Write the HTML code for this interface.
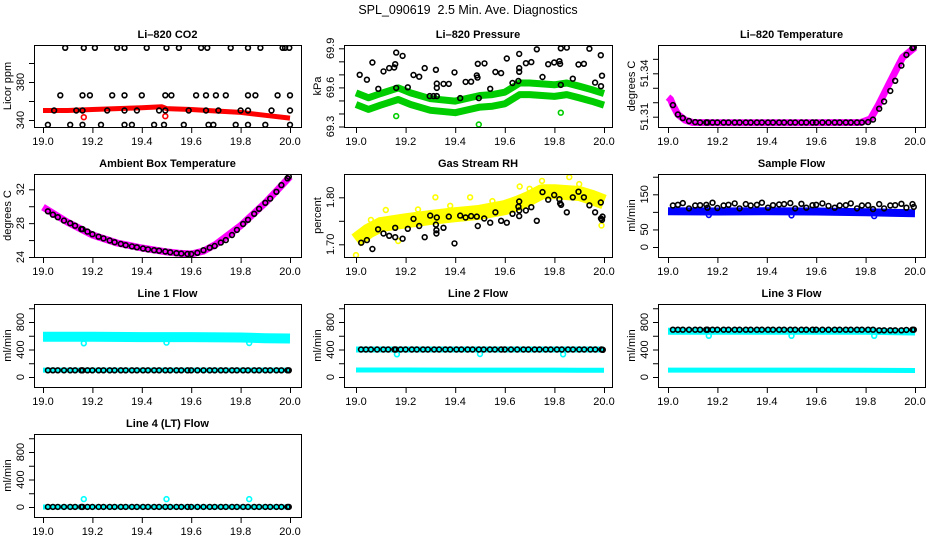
<!DOCTYPE html>
<html><head><meta charset="utf-8"><title>SPL_090619 Diagnostics</title>
<style>
html,body{margin:0;padding:0;background:#fff;}
svg{display:block;font-family:"Liberation Sans",Arial,sans-serif;}
</style></head>
<body>
<svg id="chart" width="936" height="540" viewBox="0 0 936 540" xmlns="http://www.w3.org/2000/svg">
<text x="468" y="14" text-anchor="middle" font-size="12.5">SPL_090619&#160; 2.5 Min. Ave. Diagnostics</text>
</svg>
<script>
// ---------- shared sample times ----------
const tB = [19.02,19.04,19.06,19.085,19.11,19.13,19.155,19.16,19.18,19.2,19.225,19.245,19.27,19.29,19.315,19.335,19.36,19.38,19.405,19.425,19.45,19.47,19.495,19.515,19.54,19.56,19.585,19.6,19.625,19.65,19.675,19.695,19.72,19.74,19.765,19.785,19.81,19.83,19.855,19.875,19.9,19.92,19.945,19.965,19.99,19.995];
const xTicks = [19.0,19.2,19.4,19.6,19.8,20.0];
const xTickLabels = ["19.0","19.2","19.4","19.6","19.8","20.0"];
const outX = [19.165,19.5,19.835];

// ---------- Li-820 CO2 ----------
const co2BandX = [19.0,19.1,19.2,19.3,19.4,19.48,19.5,19.6,19.7,19.8,19.9,20.0];
const co2BandY = [350,350,351,352,353,354,352,351,349.5,348,345,342];
const co2OutX = [19.165,19.495];
const co2OutY = [343,344];
const co2BlackX = [19.09,19.165,19.21,19.30,19.33,19.42,19.50,19.55,19.64,19.665,19.76,19.83,19.88,19.97,19.98,19.997,
 19.07,19.16,19.19,19.28,19.33,19.40,19.495,19.52,19.62,19.66,19.70,19.74,19.83,19.86,19.95,20.0,
 19.045,19.135,19.16,19.26,19.33,19.38,19.47,19.495,19.59,19.66,19.71,19.80,19.83,19.925,20.0,
 19.02,19.11,19.16,19.235,19.33,19.36,19.45,19.49,19.57,19.67,19.69,19.78,19.83,19.90,20.0];
const co2BlackY = [416,416,416,416,416,416,416,416,416,416,416,416,416,416,416,416,
 366,366,366,366,366,366,366,366,366,366,366,366,366,366,366,366,
 350,350,350,350,350,350,350,350,350,350,350,350,350,350,350,
 335,335,335,335,335,335,335,335,335,335,335,335,335,335,335];
const co2YTicks = [340,360,380,400];
const co2YLabels = [340,380];

// ---------- Li-820 Pressure ----------
const presBandX = [19.0,19.05,19.1,19.17,19.22,19.3,19.4,19.5,19.55,19.6,19.66,19.7,19.8,19.85,19.9,19.95,20.0];
const presUpperY = [69.558,69.52,69.553,69.596,69.558,69.513,69.495,69.538,69.545,69.563,69.634,69.634,69.62,69.634,69.609,69.583,69.553];
const presLowerY = [69.469,69.431,69.464,69.507,69.469,69.424,69.406,69.449,69.456,69.474,69.545,69.545,69.531,69.545,69.52,69.494,69.464];
const presOutY = [69.38,69.315,69.406];
const presOutX = [19.162,19.495,19.826];
const presBlackX = [19.015,19.044,19.066,19.09,19.111,19.134,19.154,19.158,19.162,19.162,19.188,19.209,19.232,19.255,19.277,19.297,19.313,19.322,19.326,19.326,19.326,19.353,19.374,19.397,19.42,19.442,19.464,19.487,19.49,19.491,19.495,19.518,19.541,19.562,19.585,19.608,19.631,19.655,19.658,19.658,19.658,19.685,19.707,19.729,19.752,19.775,19.799,19.82,19.823,19.826,19.826,19.85,19.874,19.897,19.919,19.941,19.964,19.987,19.988,19.992];
const presBlackY = [69.697,69.659,69.791,69.589,69.723,69.748,69.753,69.778,69.867,69.596,69.842,69.601,69.695,69.682,69.748,69.533,69.533,69.735,69.629,69.596,69.533,69.627,69.627,69.715,69.518,69.642,69.644,69.692,69.675,69.781,69.518,69.784,69.589,69.718,69.71,69.822,69.634,69.649,69.72,69.748,69.857,69.786,69.794,69.892,69.68,69.778,69.791,69.801,69.78,69.9,69.619,69.905,69.667,69.776,69.781,69.897,69.637,69.847,69.609,69.69];
const presYTicks = [69.3,69.4,69.5,69.6,69.7,69.8,69.9];
const presYLabels = [69.3,69.6,69.9];

// ---------- Li-820 Temperature ----------
const ltBandX = [19.0,19.01,19.02,19.04,19.07,19.1,19.2,19.4,19.6,19.78,19.82,19.85,19.9,19.95,20.0];
const ltBandY = [51.3235,51.322,51.318,51.3115,51.3076,51.306,51.3058,51.3058,51.3058,51.306,51.3085,51.3175,51.3345,51.351,51.358];
const ltBlackY = [51.318,51.3115,51.309,51.307,51.3063,
 51.306,51.306,51.306,51.306,51.306,51.306,51.306,51.306,51.306,51.306,51.306,51.306,51.306,51.306,51.306,51.306,
 51.306,51.306,51.306,51.306,51.306,51.306,51.306,51.306,51.306,51.306,51.306,51.306,51.306,51.306,51.306,
 51.3063,51.308,51.3155,51.3205,51.3278,51.3348,51.3453,51.3527,51.3575,51.358];
const ltYTicks = [51.31,51.32,51.33,51.34,51.35];
const ltYLabels = [51.31,51.34];

// ---------- Ambient Box Temperature ----------
const ambBandX = [19.0,19.1,19.2,19.3,19.4,19.5,19.55,19.6,19.65,19.7,19.8,19.9,20.0];
const ambBandY = [29.9,28.1,26.6,25.65,25.06,24.6,24.45,24.35,24.7,25.5,27.7,30.4,33.5];
const ambBlackY = [29.4,29.0,28.7,28.3,28.0,27.7,27.3,27.3,27.0,26.7,26.4,26.2,25.95,25.75,25.55,25.4,25.25,25.15,25.0,24.9,24.8,24.75,24.65,24.55,24.45,24.4,24.35,24.35,24.5,24.8,25.1,25.3,25.7,26.0,26.6,27.2,27.9,28.4,29.1,29.7,30.4,30.9,31.7,32.5,33.3,33.5];
const ambYTicks = [24,26,28,30,32];
const ambYLabels = [24,28,32];

// ---------- Gas Stream RH ----------
const rhBandX = [19.0,19.05,19.1,19.2,19.3,19.4,19.5,19.6,19.65,19.7,19.75,19.8,19.85,19.9,19.95,20.0];
const rhBandY = [1.708,1.728,1.742,1.750,1.757,1.763,1.768,1.778,1.787,1.798,1.812,1.812,1.81,1.808,1.80,1.79];
const rhYelX = [19.0,19.32,19.86,19.99,19.17,19.12,19.46,19.75,19.66,19.06,19.25,19.38,19.55,19.7,19.9];
const rhYelY = [1.677,1.80,1.843,1.74,1.707,1.773,1.800,1.835,1.823,1.752,1.774,1.782,1.792,1.818,1.828];
const rhBlackX = [19.021,19.044,19.066,19.089,19.111,19.134,19.158,19.158,19.188,19.209,19.232,19.255,19.277,19.299,19.322,19.324,19.324,19.326,19.353,19.374,19.397,19.42,19.442,19.464,19.487,19.491,19.517,19.541,19.562,19.585,19.608,19.631,19.655,19.658,19.658,19.658,19.685,19.707,19.729,19.752,19.775,19.799,19.82,19.823,19.827,19.85,19.874,19.897,19.919,19.941,19.964,19.987,19.988,19.992,19.994];
const rhBlackY = [1.7035,1.709,1.690,1.732,1.723,1.718,1.735,1.715,1.712,1.733,1.754,1.739,1.715,1.761,1.742,1.730,1.723,1.757,1.735,1.759,1.702,1.761,1.757,1.760,1.759,1.739,1.755,1.746,1.768,1.750,1.746,1.765,1.780,1.760,1.772,1.791,1.772,1.779,1.750,1.811,1.795,1.805,1.796,1.787,1.784,1.768,1.80,1.812,1.80,1.783,1.768,1.789,1.755,1.752,1.759];
const rhYTicks = [1.70,1.75,1.80];
const rhYLabels = ["1.70","1.80"];

// ---------- Sample Flow ----------
const sfBandX = [19.0,19.2,19.4,19.6,19.8,20.0];
const sfBandY = [102,101,102,101,99,96];
const sfOutY = [91,90,88];
const sfBlackY = [118,120,125,110,118,119,120,112,126,111,118,120,124,110,122,118,120,126,112,119,121,122,125,110,123,112,119,120,124,117,112,118,119,124,110,118,119,108,122,110,118,119,123,112,122,114];
const sfYTicks = [0,50,100,150,200];
const sfYLabels = [0,50,150];

// ---------- Line flows ----------
const lineYTicks = [0,200,400,600,800,1000];
const lineYLabels = [0,400,800];
const l1UpperX = [19.0,19.2,19.4,19.6,19.8,19.9,20.0];
const l1UpperY = [585,585,580,580,575,565,560];
const l1LowerY = [100,100,100,100,100,100,100];
const l1OutY = [490,500,495];
const l1BlackY = [98,98,98,98,98,98,98,98,98,98,98,98,98,98,98,98,98,98,98,98,98,98,98,98,98,98,98,98,98,98,98,98,98,98,98,98,98,98,98,98,98,98,98,98,98,98];
const l2UpperY = [400,400,400,400,400,400,400];
const l2LowerY = [102,102,101,101,100,99,98];
const l2OutY = [330,335,330];
const l2BlackY = [400,400,400,400,400,400,400,400,400,400,400,400,400,400,400,400,400,400,400,400,400,400,400,400,400,400,400,400,400,400,400,400,400,400,400,400,400,400,400,400,400,400,400,400,400,395];
const l3UpperY = [665,665,665,665,665,660,655];
const l3LowerY = [100,100,100,100,98,96,94];
const l3OutY = [600,600,600];
const l3BlackY = [688,688,688,688,688,688,688,688,688,688,688,688,688,688,688,688,688,688,688,688,688,688,688,688,688,688,688,688,688,688,688,688,688,688,688,688,688,688,680,680,680,680,680,685,688,688];
const l4BandY = [0,0,0,0,0,0,0];
const l4OutY = [115,115,115];
const l4BlackY = [2,2,2,2,2,2,2,2,2,2,2,2,2,2,2,2,2,2,2,2,2,2,2,2,2,2,2,2,2,2,2,2,2,2,2,2,2,2,2,2,2,2,2,2,2,2];

// ---------- layout ----------
const NS = "http://www.w3.org/2000/svg";
const svg = document.getElementById('chart');
function mk(tag, attrs, parent){ const e=document.createElementNS(NS,tag); for(const k in attrs) e.setAttribute(k,attrs[k]); (parent||svg).appendChild(e); return e; }

const C1={l:34,r:301,x0:43,x1:290}, C2={l:344,r:612,x0:356,x1:604}, C3={l:658,r:925,x0:668,x1:915};
const R1={t:45,b:127}, R2={t:174,b:257}, R3={t:304,b:387}, R4={t:434,b:517};
let clipId=0;

function panel(name, title, ylab, col, row, ya, pa, yb, pb, yTicks, yLabels){
  const g = mk('g',{});
  
  
  const sx = v => col.x0 + (v-19)/(1)*(col.x1-col.x0);
  const sy = v => pa + (v-ya)/(yb-ya)*(pb-pa);
  const id='clip'+(clipId++);
  const cp = mk('clipPath',{id:id},g);
  mk('rect',{x:col.l,y:row.t,width:col.r-col.l,height:row.b-row.t},cp);
  const plot = mk('g',{'clip-path':'url(#'+id+')'},g);
  
  
  const box = mk('rect',{x:col.l+0.5,y:row.t+0.5,width:col.r-col.l,height:row.b-row.t,fill:'none',stroke:'#000','stroke-width':1},g);
  
  
  const tt = mk('text',{x:(col.l+col.r)/2,y:row.t-7,'text-anchor':'middle','font-size':11,'font-weight':'bold'},g);
  tt.textContent = title;
  
  
  const xa = mk('g',{},g);
  
  
  mk('line',{x1:sx(xTicks[0]),x2:sx(xTicks[xTicks.length-1]),y1:row.b+0.5,y2:row.b+0.5,stroke:'#000'},xa);
  xTicks.forEach((t,i)=>{
    mk('line',{x1:sx(t)+0.5,x2:sx(t)+0.5,y1:row.b,y2:row.b+6,stroke:'#000'},xa);
    const tx = mk('text',{x:sx(t),y:row.b+18,'text-anchor':'middle','font-size':11},xa);
    tx.textContent = xTickLabels[i];
    
    
  });
  const yaG = mk('g',{},g);
  
  
  mk('line',{x1:col.l+0.5,x2:col.l+0.5,y1:sy(yTicks[0]),y2:sy(yTicks[yTicks.length-1]),stroke:'#000'},yaG);
  yTicks.forEach(t=>{ mk('line',{x1:col.l-5,x2:col.l,y1:sy(t)+0.5,y2:sy(t)+0.5,stroke:'#000'},yaG); });
  yLabels.forEach(t=>{
    const y=sy(+t), x=col.l-10;
    const tx = mk('text',{x:x,y:y,'text-anchor':'middle','font-size':11,transform:'rotate(-90 '+x+' '+y+')'},yaG);
    tx.textContent = String(t);
    
    
  });
  const ym=(row.t+row.b)/2, xl=col.l-23;
  const yt = mk('text',{x:xl,y:ym,'text-anchor':'middle','font-size':11,transform:'rotate(-90 '+xl+' '+ym+')'},g);
  yt.textContent = ylab;
  
  
  return {plot, sx, sy};
}

function band(p, xs, ys, color, w, name){
  const pts = xs.map((x,i)=>p.sx(x).toFixed(1)+','+p.sy(ys[i]).toFixed(1)).join(' ');
  const pl = mk('polyline',{points:pts,fill:'none',stroke:color,'stroke-width':w,'stroke-linejoin':'round','stroke-linecap':'butt'},p.plot);
  
  
}
function pts(p, xs, ys, color, name){
  const g = mk('g',{},p.plot);
  
  
  xs.forEach((x,i)=>{
    const c = mk('circle',{cx:p.sx(x).toFixed(1),cy:p.sy(ys[i]).toFixed(1),r:2.4,fill:'none',stroke:color,'stroke-width':1.6},g);
    
    
  });
}

let p = panel('co2','Li–820 CO2','Licor ppm',C1,R1,340,120,380,82,co2YTicks,co2YLabels);
band(p,co2BandX,co2BandY,'#ff0000',5,'co2-red-series');
pts(p,co2OutX,co2OutY,'#ff0000','co2-red-outliers');
pts(p,co2BlackX,co2BlackY,'#000','co2-black-series');

p = panel('pressure','Li–820 Pressure','kPa',C2,R1,69.3,126.5,69.9,48.3,presYTicks,presYLabels);
band(p,presBandX,presUpperY,'#00cd00',7,'pressure-green-upper');
band(p,presBandX,presLowerY,'#00cd00',7,'pressure-green-lower');
pts(p,presOutX,presOutY,'#00cd00','pressure-green-outliers');
pts(p,presBlackX,presBlackY,'#000','pressure-black-series');

p = panel('li-temp','Li–820 Temperature','degrees C',C3,R1,51.31,116.7,51.34,73.3,ltYTicks,ltYLabels);
band(p,ltBandX,ltBandY,'#ff00ff',7,'li-temp-magenta-series');
pts(p,tB,ltBlackY,'#000','li-temp-black-series');

p = panel('ambient','Ambient Box Temperature','degrees C',C1,R2,24,257,32,189.3,ambYTicks,ambYLabels);
band(p,ambBandX,ambBandY,'#ff00ff',7,'ambient-magenta-series');
pts(p,tB,ambBlackY,'#000','ambient-black-series');

p = panel('rh','Gas Stream RH','percent',C2,R2,1.70,244.3,1.80,197.3,rhYTicks,rhYLabels);
band(p,rhBandX,rhBandY,'#ffff00',15,'rh-yellow-series');
pts(p,rhYelX,rhYelY,'#ffff00','rh-yellow-points');
pts(p,rhBlackX,rhBlackY,'#000','rh-black-series');

p = panel('sample-flow','Sample Flow','ml/min',C3,R2,0,247,150,194.3,sfYTicks,sfYLabels);
band(p,sfBandX,sfBandY,'#0000ff',8,'sample-flow-blue-series');
pts(p,outX,sfOutY,'#0000ff','sample-flow-blue-outliers');
pts(p,tB,sfBlackY,'#000','sample-flow-black-series');

p = panel('line1','Line 1 Flow','ml/min',C1,R3,0,377,800,322,lineYTicks,lineYLabels);
band(p,l1UpperX,l1UpperY,'#00ffff',10,'line1-cyan-upper');
band(p,l1UpperX,l1LowerY,'#00ffff',5,'line1-cyan-lower');
pts(p,outX,l1OutY,'#00ffff','line1-cyan-outliers');
pts(p,tB,l1BlackY,'#000','line1-black-series');

p = panel('line2','Line 2 Flow','ml/min',C2,R3,0,377,800,322,lineYTicks,lineYLabels);
band(p,l1UpperX,l2UpperY,'#00ffff',6,'line2-cyan-upper');
band(p,l1UpperX,l2LowerY,'#00ffff',5,'line2-cyan-lower');
pts(p,outX,l2OutY,'#00ffff','line2-cyan-outliers');
pts(p,tB,l2BlackY,'#000','line2-black-series');

p = panel('line3','Line 3 Flow','ml/min',C3,R3,0,377,800,322,lineYTicks,lineYLabels);
band(p,l1UpperX,l3UpperY,'#00ffff',7,'line3-cyan-upper');
band(p,l1UpperX,l3LowerY,'#00ffff',5,'line3-cyan-lower');
pts(p,outX,l3OutY,'#00ffff','line3-cyan-outliers');
pts(p,tB,l3BlackY,'#000','line3-black-series');

p = panel('line4','Line 4 (LT) Flow','ml/min',C1,R4,0,507,800,452,lineYTicks,lineYLabels);
band(p,l1UpperX,l4BandY,'#00ffff',5,'line4-cyan-series');
pts(p,outX,l4OutY,'#00ffff','line4-cyan-outliers');
pts(p,tB,l4BlackY,'#000','line4-black-series');
</script>
</body></html>
